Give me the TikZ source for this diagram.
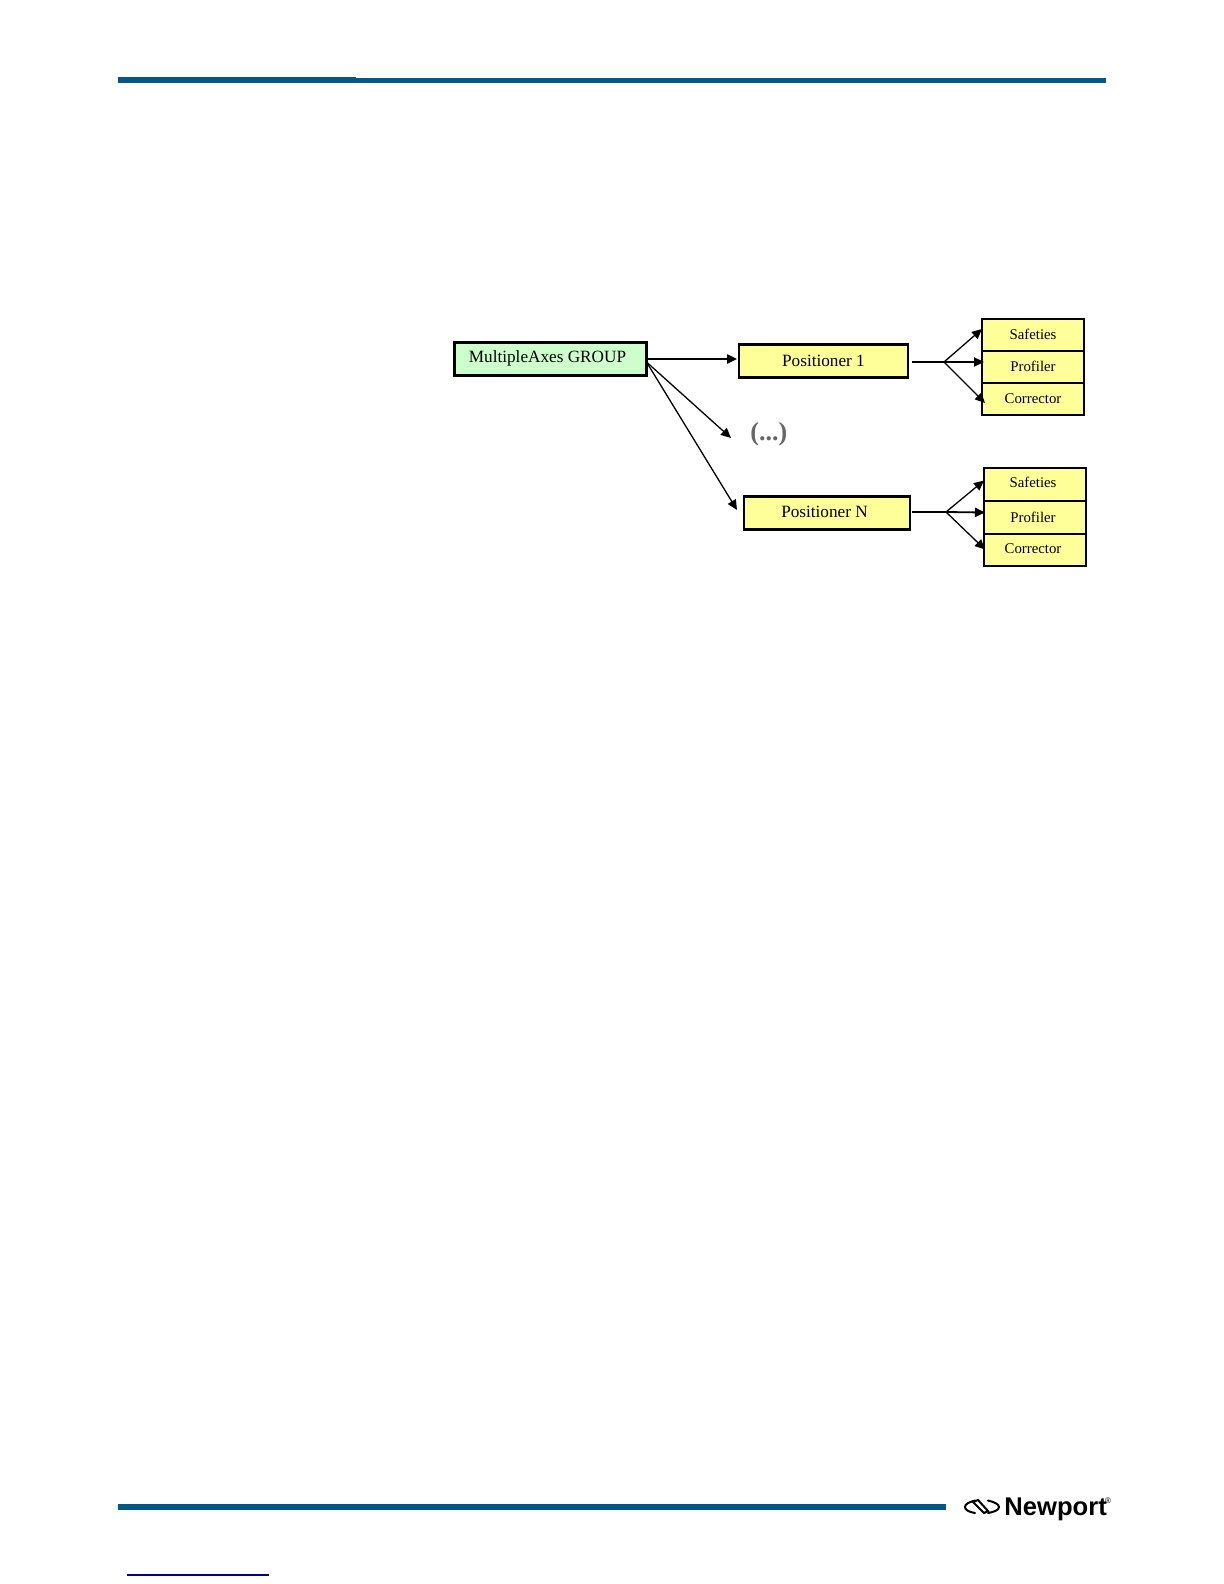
\documentclass[tikz,border=0pt]{standalone}
\usepackage{fontspec}
\setmainfont{Liberation Serif}
\setsansfont{Liberation Sans}
\usepackage{tikz}
\usetikzlibrary{positioning,arrows.meta}
\definecolor{barblue}{RGB}{0,88,136}
\definecolor{linkblue}{RGB}{0,0,140}
\definecolor{groupgreen}{RGB}{204,255,204}
\definecolor{posyellow}{RGB}{255,255,153}
\newcommand{\nudge}[3]{\raisebox{#2}{\hspace*{#1}#3}}

\begin{document}
\begin{tikzpicture}[
    x=0.5pt, y=-0.5pt,
    group/.style={rectangle, draw=black, line width=1.1pt, fill=groupgreen, outer sep=0pt, minimum width=96pt, minimum height=16.5pt, inner sep=0pt, font=\fontsize{8.6}{10}\selectfont},
    positioner/.style={rectangle, draw=black, line width=1.1pt, fill=posyellow, outer sep=0pt, minimum height=16.5pt, inner sep=0pt, font=\fontsize{8.6}{10}\selectfont},
    part/.style={rectangle, draw=black, line width=1pt, fill=posyellow, outer sep=0pt, minimum width=51pt, minimum height=16pt, inner sep=0pt, font=\fontsize{7.4}{9}\selectfont},
    arrow/.style={-{Stealth[inset=0pt,length=5pt,width=4.6pt]}, line width=0.65pt, color=black},
    bar/.style={fill=barblue, draw=none},
    logo/.style={draw=black, line width=1pt, line cap=round}
]
\useasboundingbox (0,0) rectangle (1224,1584);

% Page rules
\fill[bar] (118,77) rectangle (356,83);
\fill[bar] (356,78) rectangle (1106,83);
\fill[bar] (118,1504) rectangle (946,1510);
\draw[linkblue, line width=0.6pt] (127,1575) -- (269,1575);

% Group and positioners
\node[group] (group) at (550.5,359) {\nudge{-3pt}{2pt}{MultipleAxes GROUP}};
\node[positioner, minimum width=84.5pt, right=46.25pt of group, yshift=-1pt] (pos1) {\nudge{0pt}{0.5pt}{Positioner 1}};
\node[positioner, minimum width=83pt, below=59.5pt of pos1, xshift=1.75pt] (posN) {\nudge{-2.5pt}{1pt}{Positioner N}};
\node[right=51.75pt of group, yshift=-37.5pt, inner sep=0pt, text=black!60, font=\fontsize{13}{14}\bfseries\selectfont] (dots) {(...)};

% Parts of positioner 1
\node[part, right=37pt of pos1, yshift=13pt] (safeties1) {\nudge{0pt}{0.5pt}{Safeties}};
\node[part, below=0pt of safeties1] (profiler1) {\nudge{0pt}{1pt}{Profiler}};
\node[part, below=0pt of profiler1] (corrector1) {\nudge{0pt}{0.5pt}{Corrector}};

% Parts of positioner N
\node[part, minimum height=16.5pt, right=37pt of posN, yshift=14.5pt] (safetiesN) {\nudge{-2pt}{2pt}{Safeties}};
\node[part, minimum height=16.5pt, below=0pt of safetiesN] (profilerN) {\nudge{-2pt}{0pt}{Profiler}};
\node[part, below=0pt of profilerN] (correctorN) {\nudge{-2pt}{0.5pt}{Corrector}};

% Fan-out points
\coordinate[right=18pt of pos1, yshift=-0.5pt] (hub1);
\coordinate[right=18pt of posN, yshift=0.5pt] (hubN);

% Main flow
\draw[arrow, line width=0.9pt, shorten >=1pt] (group.east) -- (group.east -| pos1.west);
\draw[arrow] ([yshift=-1.5pt]group.east) -- ([xshift=-9.5pt,yshift=-2pt]dots.west);
\draw[arrow] ([yshift=-1.5pt]group.east) -- ([xshift=-3.5pt,yshift=1.5pt]posN.west);

% Fan-out of positioner 1
\draw[line width=0.6pt, shorten <=2pt] (pos1.east |- hub1) -- (hub1);
\draw[arrow] (hub1) -- ([yshift=3pt]safeties1.west);
\draw[arrow] (hub1) -- ([xshift=1pt]hub1 -| profiler1.west);
\draw[arrow] (hub1) -- ([xshift=1.5pt,yshift=-2pt]corrector1.west);

% Fan-out of positioner N
\draw[line width=0.9pt, shorten <=1pt] (posN.east |- hubN) -- (hubN);
\draw[arrow] (hubN) -- ([yshift=1.75pt]safetiesN.west);
\draw[arrow, line width=0.9pt] (hubN) -- ([xshift=0.5pt,yshift=2.25pt]profilerN.west);
\draw[arrow] (hubN) -- ([xshift=0.5pt]correctorN.west);

% Logo
\draw[logo] (975,1500.5) .. controls (969,1502) and (965,1504) .. (965,1507) .. controls (965,1510) and (969,1512) .. (975,1513);
\draw[logo] (988,1500.5) .. controls (994,1502) and (999,1504) .. (999,1507) .. controls (999,1510) and (994,1512) .. (988,1513);
\draw[logo] (973,1502) -- (984,1513) -- (988,1511) -- (978,1500) -- cycle;
\node[anchor=base west, inner sep=0pt, font=\sffamily\bfseries\fontsize{12.8}{13}\selectfont] (brand) at (1004,1515.5) {Newport};
\node[anchor=center, inner sep=0pt, font=\sffamily\fontsize{4}{4}\selectfont] (regmark) at (1108,1501) {®};
\end{tikzpicture}
\end{document}
